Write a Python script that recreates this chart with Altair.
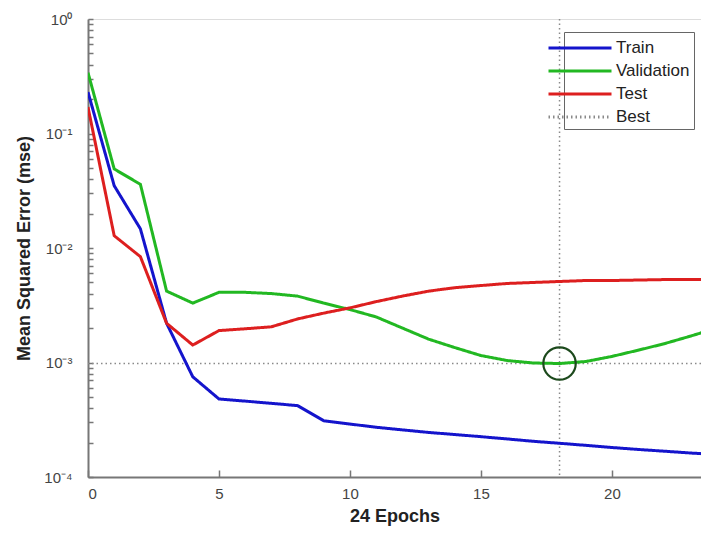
import altair as alt
import pandas as pd

# ---------------- data ----------------
epochs = list(range(25))
train = [0.23, 0.035, 0.0147, 0.0022, 0.00075, 0.00048, 0.00046, 0.00044, 0.00042,
         0.00031, 0.00029, 0.000272, 0.000258, 0.000245, 0.000235, 0.000225, 0.000215,
         0.000205, 0.000197, 0.000189, 0.000181, 0.000174, 0.000168, 0.000162, 0.000157]
validation = [0.34, 0.049, 0.036, 0.0042, 0.0033, 0.0041, 0.0041, 0.0040, 0.0038,
              0.0033, 0.0029, 0.0025, 0.0020, 0.0016, 0.00135, 0.00115, 0.00104,
              0.00099, 0.00098, 0.00102, 0.00113, 0.00128, 0.00146, 0.0017, 0.002]
test = [0.17, 0.0128, 0.0084, 0.0022, 0.00142, 0.0019, 0.00197, 0.00205, 0.0024,
        0.0027, 0.0030, 0.0034, 0.0038, 0.0042, 0.0045, 0.0047, 0.0049, 0.0050,
        0.0051, 0.0052, 0.0052, 0.00525, 0.0053, 0.0053, 0.0053]
best_epoch = 18
best_perf = 0.00098

series_names = ["Train", "Validation", "Test", "Best"]
series_colors = ["#1414cc", "#22b822", "#dd1f1f", "#8a8a8a"]
series_dash = [[1, 0], [1, 0], [1, 0], [1.5, 3]]

x_ticks = [0, 5, 10, 15, 20]
y_major = [1e-4, 1e-3, 1e-2, 1e-1, 1]
y_labels = ["10\u207b\u2074", "10\u207b\u00b3", "10\u207b\u00b2", "10\u207b\u00b9", "10\u2070"]
y_minor = [m * 10.0 ** k for k in range(-4, 0) for m in range(1, 10)] + [1.0]

# ---------------- tables ----------------
rows = []
for name, vals in (("Train", train), ("Validation", validation), ("Test", test)):
    for e, v in zip(epochs, vals):
        rows.append({"epoch": e, "mse": v, "series": name})
lines_df = pd.DataFrame(rows)
best_df = pd.DataFrame([{"epoch": best_epoch, "mse": best_perf, "series": "Best"}])

FONT = "Liberation Sans"

x_scale = alt.Scale(domain=[0, 23.4], nice=False, zero=False)
y_scale = alt.Scale(type="log", domain=[1e-4, 1], nice=False)
color_scale = alt.Scale(domain=series_names, range=series_colors)
dash_scale = alt.Scale(domain=series_names, range=series_dash)

legend = alt.Legend(
    title=None, orient="none", legendX=476, legendY=13,
    symbolType="M-3,0H3", symbolSize=441, symbolStrokeWidth=3,
    labelOffset=24, labelFontSize=17, labelFont=FONT, labelColor="#222",
    strokeColor="#666", fillColor="white", padding=4, rowPadding=3,
)

label_expr = "[" + ",".join("'%s'" % s for s in y_labels) + "][round(log(datum.value)/LN10)+4]"

x_axis_main = alt.Axis(
    orient="bottom", values=x_ticks, tickSize=0, labelPadding=9,
    labelFontSize=15, labelFont=FONT, labelColor="#444",
    domainColor="#777", domainWidth=2, grid=False,
    title="24 Epochs", titleFontSize=18, titleFont=FONT, titleFontWeight="bold",
    titleColor="#222", titlePadding=6,
)
y_axis_main = alt.Axis(
    orient="left", values=y_major, labelExpr=label_expr, tickSize=0, labelPadding=16,
    labelFontSize=15, labelFont=FONT, labelColor="#444",
    domainColor="#777", domainWidth=2, grid=False,
    title="Mean Squared Error  (mse)", titleFontSize=18, titleFont=FONT,
    titleFontWeight="bold", titleColor="#222", titlePadding=10,
)
x_axis_ticks = alt.Axis(
    orient="bottom", values=x_ticks, tickSize=7, offset=-7, labels=False,
    domain=False, grid=False, title=None, tickColor="#777", tickWidth=1.5,
)
y_axis_ticks = alt.Axis(
    orient="left", values=y_minor, tickSize=5, offset=-5, labels=False,
    domain=False, grid=False, title=None, tickColor="#777", tickWidth=1.5,
)

color_enc = alt.Color("series:N", scale=color_scale, legend=legend, sort=series_names)
dash_enc = alt.StrokeDash("series:N", scale=dash_scale, legend=legend, sort=series_names)

best_v = alt.Chart(best_df).mark_rule(strokeWidth=1.5).encode(
    x=alt.X("epoch:Q", scale=x_scale, axis=None),
    color=color_enc, strokeDash=dash_enc,
)
best_h = alt.Chart(best_df).mark_rule(strokeWidth=1.5).encode(
    y=alt.Y("mse:Q", scale=y_scale, axis=None),
    color=color_enc, strokeDash=dash_enc,
)
lines = alt.Chart(lines_df).mark_line(strokeWidth=3, clip=True).encode(
    x=alt.X("epoch:Q", scale=x_scale, axis=x_axis_main),
    y=alt.Y("mse:Q", scale=y_scale, axis=y_axis_main),
    color=color_enc, strokeDash=dash_enc,
)
circle = alt.Chart(best_df).mark_point(
    shape="circle", size=1050, filled=False, strokeWidth=2.2, color="#1d4a1d", opacity=1
).encode(
    x=alt.X("epoch:Q", scale=x_scale, axis=None),
    y=alt.Y("mse:Q", scale=y_scale, axis=None),
)
ticks = alt.Chart(best_df).mark_point(opacity=0).encode(
    x=alt.X("epoch:Q", scale=x_scale, axis=x_axis_ticks),
    y=alt.Y("mse:Q", scale=y_scale, axis=y_axis_ticks),
)

chart = alt.layer(best_v, best_h, lines, circle, ticks).resolve_axis(
    x="independent", y="independent"
).properties(
    width=613, height=458,
    autosize=alt.AutoSizeParams(type="none"),
    padding={"left": 80, "top": 11, "right": 0, "bottom": 49},
).configure_view(stroke=None).configure(background="white")

chart.save("out.html", embed_options={"renderer": "svg", "actions": False})
